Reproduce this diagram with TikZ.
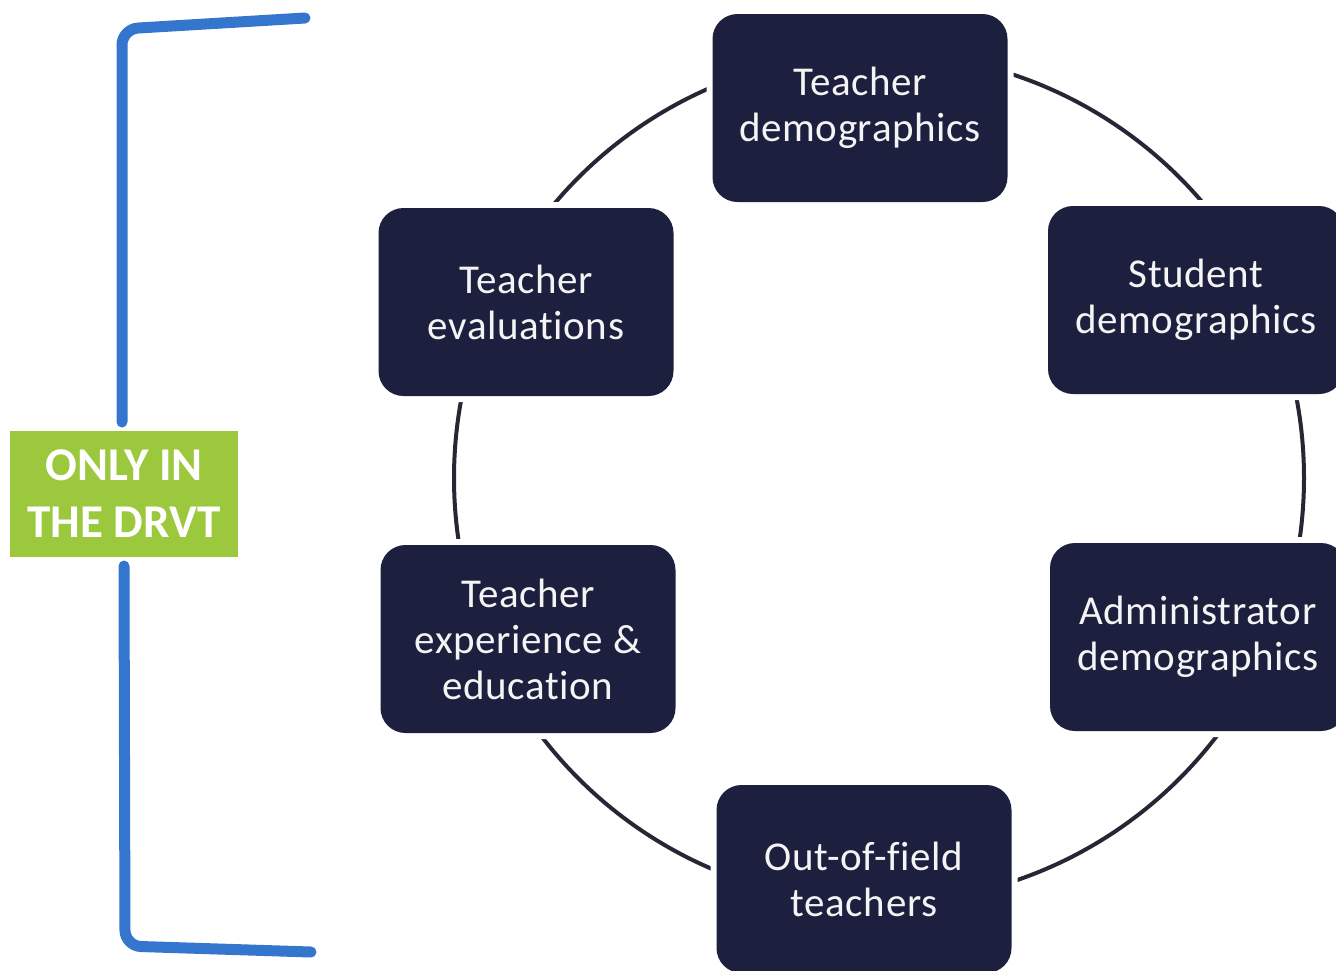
\documentclass[tikz,border=0pt]{standalone}
\usepackage{fontspec}
\setmainfont{Carlito}[Ligatures=NoCommon]
\newfontfamily\boxfont{Carlito}[Ligatures=NoCommon, LetterSpace=1.5]
\definecolor{navy}{RGB}{29,31,62}
\definecolor{ringc}{RGB}{38,38,52}
\definecolor{bluebr}{RGB}{52,117,206}
\definecolor{greenbox}{RGB}{155,200,60}
\begin{document}
\begin{tikzpicture}[x=1pt,y=-1pt,
  box/.style={rectangle, rounded corners=25pt, fill=navy, minimum width=295pt,
    minimum height=188pt, align=center, text=white!95!navy, inner sep=0pt,
    font=\boxfont\fontsize{41}{46}\selectfont,
    preaction={draw=white, line width=12pt}},
  tag/.style={rectangle, fill=greenbox, minimum width=228pt, minimum height=126pt,
    align=center, text=white, inner sep=0pt,
    font=\bfseries\fontsize{47}{57}\selectfont},
  ring/.style={draw=ringc, line width=4pt},
  bracket/.style={draw=bluebr, line width=11pt, line cap=round, rounded corners=16pt}]
\useasboundingbox (0,0) rectangle (1336,970);
% ring
\coordinate (rc) at (879,478);
\draw[ring] (rc) circle[radius=425];
% nodes
\node[box] (td) at (860,108) {Teacher\\demographics};
\node[box] (te) at (526,302) {Teacher\\evaluations};
\node[box, minimum width=296pt] (sd) at (1196,300) {Student\\demographics};
\node[box] (tx) at (528,639) {Teacher\\experience \&\\education};
\node[box, minimum width=296pt] (ad) at (1198,637) {Administrator\\demographics};
\node[box] (of) at (864,879) {Out-of-field\\teachers};
% tag and bracket
\node[tag] (g) at (124,494) {ONLY IN\\THE DRVT};
\coordinate (bt) at (305,18);
\coordinate (bb) at (311,952);
\coordinate (ga) at (122,422);
\coordinate (gb) at (124,566);
\draw[bracket] (bt) -- (122,29) -- (ga);
\draw[bracket] (gb) -- (125,946) -- (bb);
\end{tikzpicture}
\end{document}
